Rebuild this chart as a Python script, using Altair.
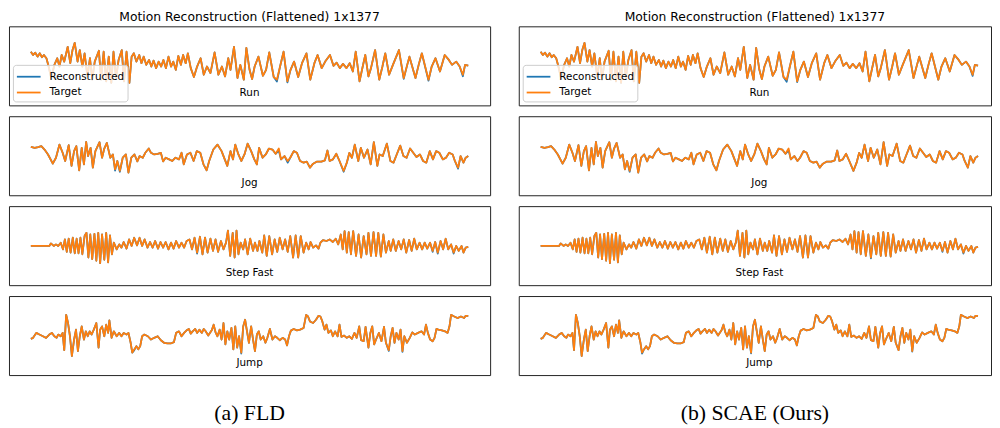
import altair as alt
import pandas as pd

BLUE = "#1f77b4"
ORANGE = "#ff7f0e"

TITLE = "Motion Reconstruction (Flattened) 1x1377"
MOTIONS = ["Run", "Jog", "Step Fast", "Jump"]
SERIES = ["Reconstructed", "Target"]
CAPTIONS = ["(a) FLD", "(b) SCAE (Ours)"]

# Target signals (frame index, value)
RUN = [(0,1.43),(7,1.10),(14,1.33),(21,0.93),(28,1.27),(35,0.87),(41,1.10),(49,0.77),(56,-0.07),(64,-1.23),
       (74,0.10),(83,0.77),(90,-0.07),(97,1.10),(105,0.43),(116,1.93),(124,0.27),(131,1.60),(138,2.33),(147,0.43),
       (154,1.60),(162,-0.07),(169,1.27),(178,-1.07),(186,0.77),(193,-1.40),(201,0.43),(214,1.53),(221,-1.40),(229,1.43),
       (237,-1.57),(245,0.93),(253,-1.73),(260,1.43),(268,-1.23),(276,0.60),(286,1.60),(293,-1.57),(301,1.43),(310,-1.73),
       (317,0.93),(324,1.27),(332,0.43),(341,1.10),(348,0.27),(355,0.93),(363,0.10),(372,0.60),(379,-0.07),(386,0.53),
       (394,-0.23),(402,0.43),(410,-0.07),(417,0.60),(425,-0.23),(433,0.93),(441,-0.07),(448,0.43),(456,-0.40),(464,1.00),
       (472,0.10),(479,1.10),(487,0.27),(494,1.27),(503,-0.23),(513,-1.13),(523,-0.07),(534,0.77),(544,-0.90),(554,-0.07),
       (565,-0.73),(578,1.37),(590,-0.90),(601,-0.07),(611,-1.07),(621,0.77),(628,-0.40),(639,1.93),(650,-1.23),(659,0.10),
       (670,-1.40),(678,1.83),(688,-0.40),(696,-1.33),(704,-0.07),(716,0.93),(730,-1.00),(740,-0.40),(750,1.37),(764,-1.13),
       (774,-1.40),(784,-0.07),(795,1.43),(807,-1.57),(817,-0.40),(828,0.43),(841,-1.13),(853,0.27),(867,1.27),(879,-1.40),
       (892,0.27),(902,1.10),(915,-0.23),(926,0.43),(941,1.10),(952,0.00),(962,0.33),(972,-0.23),(982,0.20),(993,-0.23),
       (1003,0.27),(1013,-0.57),(1022,1.43),(1034,-1.57),(1044,-0.07),(1052,1.10),(1062,-1.07),(1070,-0.23),(1083,1.60),(1096,-1.40),
       (1106,-0.07),(1115,1.27),(1127,-0.90),(1139,0.10),(1158,1.60),(1173,-1.23),(1184,0.10),(1191,0.93),(1210,-1.23),(1220,0.10),
       (1230,1.27),(1251,-1.40),(1261,-0.07),(1273,0.77),(1287,-0.57),(1302,1.10),(1315,0.60),(1325,0.10),(1338,0.43),(1349,-0.07),
       (1359,-0.90),(1366,0.10),(1376,0.03)]

JOG = [(0,0.90),(12,0.80),(23,0.87),(33,0.97),(43,0.63),(54,0.13),(69,-0.80),(79,-0.20),(90,1.13),(100,0.30),
       (108,-0.53),(119,1.07),(128,-1.03),(136,0.47),(143,0.97),(152,-1.47),(160,0.80),(167,-0.87),(174,1.40),(180,-0.03),
       (188,0.80),(195,-1.20),(203,0.47),(216,1.37),(224,-0.20),(231,0.73),(239,1.30),(250,-0.20),(258,0.13),(265,-1.37),
       (272,-0.53),(280,-1.53),(289,-0.20),(299,0.13),(307,-1.70),(316,-0.20),(326,0.13),(335,-0.57),(342,-0.03),(352,-0.20),
       (360,0.30),(371,0.73),(378,0.30),(388,0.13),(399,0.20),(409,0.30),(416,-0.57),(424,-0.20),(435,-0.37),(445,-0.53),
       (455,-0.20),(466,-0.37),(474,0.30),(481,-0.87),(491,0.13),(502,0.30),(512,-0.53),(522,0.47),(533,0.30),(543,-0.87),
       (553,-1.47),(561,-0.53),(574,0.63),(587,1.13),(600,0.47),(610,-0.37),(618,-1.03),(628,0.47),(636,-0.37),(643,1.13),
       (653,0.13),(662,-0.53),(672,0.13),(682,1.23),(693,0.47),(703,-0.37),(711,-0.87),(718,0.80),(729,-0.20),(739,0.13),
       (749,0.73),(760,0.63),(770,0.20),(780,0.73),(787,-0.37),(798,-0.03),(808,-0.53),(816,-0.20),(827,0.47),(837,0.30),
       (847,-0.53),(858,-0.70),(868,-0.60),(878,-1.20),(888,-0.80),(899,-0.60),(914,-0.60),(925,-0.47),(933,0.53),(940,-0.53),
       (950,-0.37),(961,0.20),(971,-0.53),(984,-1.53),(994,-0.70),(1002,0.30),(1010,-0.20),(1019,1.13),(1030,-0.53),(1038,0.80),
       (1048,-0.20),(1059,0.63),(1069,-0.87),(1079,1.37),(1090,-1.03),(1097,0.13),(1107,-0.03),(1120,1.23),(1131,-0.53),(1141,-0.70),
       (1151,0.13),(1162,1.03),(1172,-0.03),(1182,-0.20),(1193,0.73),(1203,0.30),(1213,-0.13),(1224,0.13),(1234,-0.53),(1244,-0.70),
       (1255,0.47),(1265,-0.37),(1275,0.47),(1285,0.30),(1296,-0.37),(1306,-0.20),(1316,0.30),(1327,0.13),(1334,-0.53),(1344,-1.20),
       (1352,-0.03),(1361,-0.70),(1368,-0.20),(1376,-0.03)]

STEP_FAST = [(0,-0.03),(58,-0.03),(63,0.23),(72,-0.03),(79,0.13),(86,-0.03),(94,0.30),(101,-0.37),(107,0.63),(113,-0.63),
       (119,0.70),(125,-0.70),(132,0.80),(138,-0.77),(144,0.70),(150,-0.77),(156,0.80),(162,-0.87),(169,0.97),(175,1.30),
       (181,-1.20),(187,1.13),(193,-1.37),(200,1.20),(206,-1.53),(212,1.30),(218,-1.77),(224,1.13),(231,-1.43),(237,1.30),
       (243,-1.70),(249,1.03),(255,-0.87),(261,0.30),(270,-0.37),(278,0.13),(285,-0.20),(292,0.37),(301,-0.30),(309,0.63),
       (317,-0.03),(325,0.80),(334,0.03),(342,0.80),(350,-0.03),(358,0.63),(367,-0.20),(375,0.37),(383,-0.20),(391,0.47),
       (400,-0.30),(408,0.37),(416,-0.20),(424,0.37),(433,-0.37),(441,0.30),(449,-0.30),(457,0.47),(466,-0.20),(474,0.30),
       (482,-0.20),(490,0.47),(499,0.63),(507,-0.37),(515,0.80),(523,-0.70),(532,0.90),(540,-0.87),(548,0.80),(556,-0.70),
       (565,0.70),(573,-0.53),(581,0.63),(589,-0.63),(598,0.47),(606,-0.37),(614,0.30),(620,1.53),(627,-1.03),(635,1.30),
       (641,-1.20),(647,1.53),(653,-0.87),(660,0.30),(668,-0.37),(674,0.63),(682,-0.87),(690,0.70),(699,-0.53),(705,0.30),
       (713,-0.53),(719,0.47),(728,-0.70),(734,1.03),(742,-1.03),(750,0.97),(759,-0.87),(767,0.63),(775,-0.63),(783,0.80),
       (792,-0.37),(800,0.63),(808,-0.63),(816,0.97),(825,-1.20),(833,1.03),(841,-1.20),(849,0.97),(858,-0.70),(866,0.30),
       (874,-0.37),(880,0.37),(888,-0.20),(897,0.03),(905,-0.30),(911,0.30),(919,0.57),(930,0.47),(940,0.63),(950,0.37),
       (959,0.70),(967,0.13),(975,1.13),(981,-0.37),(987,1.47),(994,-0.70),(1000,1.37),(1007,-0.87),(1014,1.47),(1023,-1.03),
       (1031,1.13),(1039,-1.20),(1047,0.97),(1056,-0.87),(1062,1.30),(1070,-1.03),(1078,1.37),(1086,-1.03),(1093,1.30),(1101,-1.10),
       (1109,1.13),(1117,-0.70),(1126,0.47),(1132,-0.53),(1140,0.63),(1148,-0.53),(1157,0.47),(1165,-0.37),(1173,0.63),(1181,-0.70),
       (1190,0.57),(1198,-0.53),(1206,0.70),(1214,-0.37),(1223,0.30),(1231,-0.37),(1239,0.30),(1247,-0.30),(1256,0.30),(1264,-0.53),
       (1272,0.37),(1280,-0.70),(1289,0.47),(1297,-0.37),(1305,0.70),(1313,-0.37),(1322,0.13),(1330,-0.70),(1338,-0.03),(1346,-0.53),
       (1355,-0.03),(1361,-0.70),(1368,-0.20),(1376,-0.13)]

JUMP = [(0,-0.33),(7,-0.23),(17,0.27),(27,0.10),(38,-0.07),(48,-0.23),(58,0.10),(66,0.27),(74,-0.07),(81,-0.23),
       (86,0.10),(94,-0.07),(100,0.27),(105,-1.47),(111,2.10),(117,1.27),(123,-0.07),(129,-2.07),(136,-0.40),(142,0.60),
       (148,-1.57),(154,-0.07),(160,0.93),(167,-0.40),(173,0.43),(179,-0.07),(185,0.43),(191,0.10),(198,0.60),(206,1.27),
       (213,-1.23),(218,0.60),(224,0.93),(231,-0.07),(237,1.10),(243,0.27),(247,1.53),(254,-0.23),(261,0.43),(270,-0.07),
       (278,0.27),(285,-0.07),(292,0.27),(301,0.10),(307,0.27),(314,-0.73),(319,-1.73),(325,-1.40),(332,-1.07),(338,-1.40),
       (344,-1.07),(350,-0.07),(357,0.10),(368,-0.07),(378,-0.40),(388,-0.23),(399,-0.07),(409,-0.47),(419,-0.73),(430,-0.80),
       (440,-0.80),(450,-0.67),(457,0.27),(466,0.43),(474,-0.07),(482,0.27),(490,0.53),(497,0.67),(503,0.20),(509,0.43),
       (517,0.67),(523,0.27),(530,0.60),(538,0.27),(544,0.67),(550,0.43),(558,0.00),(569,0.53),(575,1.10),(581,0.33),
       (587,-0.07),(594,0.60),(600,-0.40),(606,1.27),(612,-0.90),(618,0.43),(624,-0.40),(631,0.77),(637,-1.40),(643,0.93),
       (649,-1.23),(655,-0.07),(662,-1.73),(668,0.93),(674,1.60),(680,0.43),(686,-0.73),(693,0.93),(699,-0.40),(705,-1.57),
       (711,0.10),(717,0.43),(723,-0.40),(731,-0.07),(738,-0.73),(744,-0.23),(752,0.67),(760,-0.40),(768,-0.07),(775,-0.23),
       (783,-0.47),(792,-0.23),(800,-0.40),(806,-1.00),(812,-0.07),(818,0.50),(827,0.67),(837,0.53),(847,0.60),(858,0.77),
       (866,2.10),(872,1.93),(878,1.43),(888,1.27),(897,1.60),(905,2.00),(911,1.93),(917,1.43),(924,0.60),(930,1.10),
       (936,0.27),(944,0.53),(950,-0.07),(957,0.43),(965,-0.07),(971,1.10),(977,-0.13),(985,0.00),(994,-0.23),(1002,-0.07),
       (1010,-0.33),(1018,0.27),(1025,-0.23),(1033,0.93),(1039,-0.47),(1047,-0.57),(1053,0.87),(1062,-1.23),(1068,0.27),(1074,0.93),
       (1080,-0.90),(1086,-0.40),(1095,0.27),(1103,-0.57),(1111,0.87),(1117,-0.73),(1126,-1.47),(1132,-0.07),(1138,0.77),(1144,-0.73),
       (1150,0.27),(1157,-0.40),(1163,0.60),(1169,-1.57),(1175,-0.07),(1183,-0.73),(1192,-0.23),(1200,0.33),(1208,0.10),(1218,0.27),
       (1229,0.43),(1237,0.10),(1243,1.10),(1249,0.27),(1256,-0.40),(1264,-0.57),(1270,-0.23),(1276,0.67),(1282,0.60),(1293,0.53),
       (1303,0.43),(1311,0.27),(1317,0.93),(1322,2.10),(1332,1.93),(1342,1.77),(1353,1.93),(1363,1.77),(1368,2.00),(1376,2.00)]

TARGETS = [RUN, JOG, STEP_FAST, JUMP]

# Reconstructed = target except where the blue line departs from it (frame: value)
FLD_RECON = [
    {774: -1.58, 807: -1.68, 1359: -1.05, 1251: -1.5, 1173: -1.32},
    {265: -1.50, 280: -1.62, 780: 0.52, 808: -0.70, 1344: -1.30, 984: -1.62},
    {1264: -0.62, 1280: -0.80, 523: -0.80, 1330: -0.80},
    {325: -1.50, 662: -1.82, 1126: -1.55, 1169: -1.65},
]
SCAE_RECON = [
    {774: -1.62, 1359: -1.02, 807: -1.65},
    {280: -1.62, 813: -0.72, 1350: -1.25, 780: 0.55},
    {1264: -0.62, 1330: -0.80, 1039: -1.28},
    {319: -1.82, 662: -1.80, 1169: -1.62},
]

X_LEFT = [-68.8, 1444.8]
X_RIGHT = [-68.8, 1416.8]
Y_DOMAIN = [-4, 4]


def make_df(target, overrides):
    rows = []
    for f, v in target:
        rows.append({"frame": f, "value": overrides.get(f, v), "series": SERIES[0]})
    for f, v in target:
        rows.append({"frame": f, "value": v, "series": SERIES[1]})
    return pd.DataFrame(rows)


def panel(name, target, overrides, xdom, width, first):
    df = make_df(target, overrides)
    legend = None
    if first:
        legend = alt.Legend(
            title=None, orient="bottom-left", offset=4,
            fillColor="rgba(255,255,255,0.8)", strokeColor="#cccccc", cornerRadius=3,
            padding=3, symbolType="M-1.5,0H1.5", symbolSize=256, symbolStrokeWidth=1.8,
            symbolOffset=4, symbolFillColor="transparent",
            labelFont="DejaVu Sans", labelFontSize=10.5, labelColor="black",
            rowPadding=1, labelOffset=12,
        )
    lines = alt.Chart(df).mark_line(strokeWidth=1.8, strokeJoin="round").encode(
        x=alt.X("frame:Q", scale=alt.Scale(domain=xdom, nice=False, zero=False), axis=None),
        y=alt.Y("value:Q", scale=alt.Scale(domain=Y_DOMAIN, nice=False, zero=False), axis=None),
        color=alt.Color("series:N", scale=alt.Scale(domain=SERIES, range=[BLUE, ORANGE]), legend=legend),
    )
    label = alt.Chart(pd.DataFrame({"label": [name]})).mark_text(
        font="DejaVu Sans", fontSize=10.5, color="black", baseline="middle", align="center"
    ).encode(x=alt.datum(688), y=alt.datum(-2.8), text="label:N")
    ch = alt.layer(lines, label).properties(width=width, height=80)
    if first:
        ch = ch.properties(title=alt.TitleParams(
            TITLE, font="DejaVu Sans", fontSize=12.5, fontWeight="normal", color="black",
            anchor="middle", offset=3))
    return ch


def column(caption, recon, xdom, width):
    panels = [panel(MOTIONS[i], TARGETS[i], recon[i], xdom, width, i == 0) for i in range(4)]
    return alt.vconcat(*panels, spacing=9, title=alt.TitleParams(
        caption, orient="bottom", anchor="middle", font="Liberation Serif", fontSize=22,
        fontWeight="normal", color="black", offset=28)
    ).resolve_scale(color="independent").resolve_legend(color="independent")


left = column(CAPTIONS[0], FLD_RECON, X_LEFT, 487)
right = column(CAPTIONS[1], SCAE_RECON, X_RIGHT, 478)

chart = alt.hconcat(left, right, spacing=27).resolve_scale(color="independent").resolve_legend(
    color="independent"
).properties(
    padding={"left": 0, "top": 0, "right": 0, "bottom": 0}, background="white"
).configure_view(stroke="#222222", strokeWidth=1)

chart.save("out.html", embed_options={"renderer": "svg", "actions": False})
